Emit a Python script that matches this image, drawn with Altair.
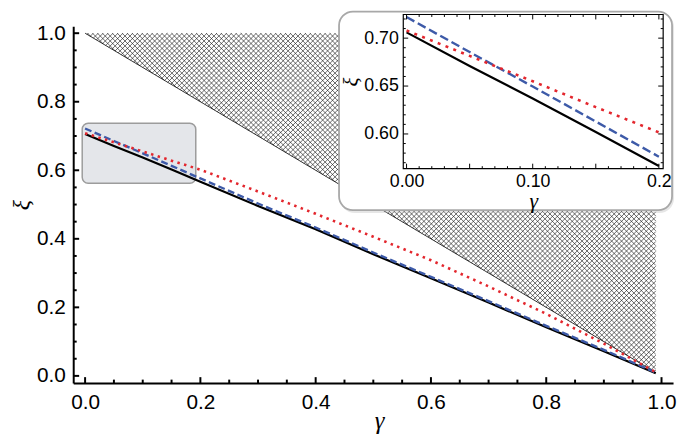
import altair as alt
import pandas as pd
import numpy as np

# ---------------- data ----------------
gamma = [0.0, 0.05, 0.10, 0.15, 0.20, 0.30, 0.40, 0.50, 0.60, 0.70, 0.80, 0.90, 0.99]
xi_black = [0.706, 0.671, 0.637, 0.602, 0.5665, 0.496, 0.428, 0.355, 0.285, 0.214, 0.142, 0.072, 0.008]
xi_blue = [0.722, 0.6855, 0.6495, 0.613, 0.5763, 0.503, 0.433, 0.360, 0.289, 0.218, 0.146, 0.076, 0.010]
xi_red = [0.708, 0.6815, 0.655, 0.628, 0.6017, 0.538, 0.473, 0.406, 0.3375, 0.261, 0.181, 0.094, 0.011]

# hatched (forbidden) region vertices
hatch_g = [0.0, 0.99, 0.99]
hatch_xi = [1.0, 1.0, 0.01]

# zoom box on the main plot
zoom_g = [-0.005, 0.192]
zoom_xi = [0.562, 0.737]

# tick values
main_major = [0.0, 0.2, 0.4, 0.6, 0.8, 1.0]
main_minor = [0.05, 0.10, 0.15, 0.25, 0.30, 0.35, 0.45, 0.50, 0.55,
              0.65, 0.70, 0.75, 0.85, 0.90, 0.95]
inset_x_labels = [0.0, 0.1, 0.2]
inset_x_major = [0.0, 0.05, 0.10, 0.15, 0.20]
inset_x_minor = [0.01, 0.02, 0.03, 0.04, 0.06, 0.07, 0.08, 0.09, 0.11, 0.12,
                 0.13, 0.14, 0.16, 0.17, 0.18, 0.19]
inset_y_major = [0.60, 0.65, 0.70]
inset_y_minor = [0.57, 0.58, 0.59, 0.61, 0.62, 0.63, 0.64, 0.66, 0.67, 0.68,
                 0.69, 0.71, 0.72]

# ---------------- layout ----------------
W, H = 607, 361
XD = [-0.0206, 1.02]
YD = [-0.021, 1.02]
IX0, IX1, IY0, IY1 = 334, 597, 144, -12   # inset frame (px, plot-local)
IXD = [-0.0026, 0.2034]
IYD = [0.5638, 0.7247]
BOX = (269, 606, -15, 186)                # inset white box (px)

LF = "Liberation Sans"
TF = "Liberation Serif"
RED = "#e3262d"
BLUE = "#3d5aa8"

df = pd.DataFrame({"g": gamma, "black": xi_black, "blue": xi_blue, "red": xi_red})
df_in = df[df["g"] <= 0.2 + 1e-9]

# ---------------- hatch lines (clipped to the region, 45 degrees in px) ----------------
def to_px(g, v):
    return ((g - XD[0]) / (XD[1] - XD[0]) * W, (YD[1] - v) / (YD[1] - YD[0]) * H)

def to_data(px, py):
    return (XD[0] + px / W * (XD[1] - XD[0]), YD[1] - py / H * (YD[1] - YD[0]))

tri = [np.array(to_px(g, v)) for g, v in zip(hatch_g, hatch_xi)]
segs = []
STEP = 5.0
for d in (np.array([1.0, 1.0]), np.array([1.0, -1.0])):
    n = np.array([d[1], -d[0]])
    cs = [n @ p for p in tri]
    c = min(cs) + STEP / 2
    while c < max(cs):
        pts = []
        for i in range(3):
            P, Q = tri[i], tri[(i + 1) % 3]
            den = n @ (Q - P)
            if abs(den) < 1e-12:
                continue
            u = (c - n @ P) / den
            if -1e-9 <= u <= 1 + 1e-9:
                pts.append(P + u * (Q - P))
        if len(pts) >= 2:
            pts.sort(key=lambda p: d @ p)
            a, b = pts[0], pts[-1]
            if np.linalg.norm(b - a) > 0.3:
                g1, v1 = to_data(*a)
                g2, v2 = to_data(*b)
                segs.append({"hx": g1, "hy": v1, "hx2": g2, "hy2": v2})
        c += STEP
df_hatch = pd.DataFrame(segs)
df_hyp = pd.DataFrame({"hx": [hatch_g[0]], "hy": [hatch_xi[0]],
                       "hx2": [hatch_g[2]], "hy2": [hatch_xi[2]]})
df_zoom = pd.DataFrame({"x1": [zoom_g[0]], "x2": [zoom_g[1]],
                        "y1": [zoom_xi[0]], "y2": [zoom_xi[1]]})

# ---------------- main encodings ----------------
main_x_axis = alt.Axis(values=main_major, format=".1f", ticks=False, grid=False,
                       domainColor="black", domainWidth=2,
                       labelFont=LF, labelFontSize=21, labelColor="black",
                       labelPadding=9, labelFlush=False,
                       title="γ", titleFont=TF, titleFontStyle="italic",
                       titleFontWeight="normal", titleFontSize=25,
                       titleColor="black", titleBaseline="alphabetic",
                       titleY=46, titleX=W / 2 + 6)
main_y_axis = alt.Axis(values=main_major, format=".1f", ticks=False, grid=False,
                       domainColor="black", domainWidth=2,
                       labelFont=LF, labelFontSize=21, labelColor="black",
                       labelPadding=8, labelFlush=False,
                       title="ξ", titleFont=TF, titleFontStyle="italic",
                       titleFontWeight="normal", titleFontSize=24,
                       titleColor="black", titleAngle=270,
                       titleBaseline="alphabetic", titleX=-45, titleY=H / 2)
mxs = alt.Scale(domain=XD, nice=False, zero=False)
mys = alt.Scale(domain=YD, nice=False, zero=False)

def mx(f):
    return alt.X(f"{f}:Q", scale=mxs, axis=main_x_axis, title="γ")

def my(f):
    return alt.Y(f"{f}:Q", scale=mys, axis=main_y_axis, title="ξ")

hatch = alt.Chart(df_hatch).mark_rule(color="#1a1a1a", strokeWidth=0.65).encode(
    x=mx("hx"), y=my("hy"), x2="hx2:Q", y2="hy2:Q")
hyp = alt.Chart(df_hyp).mark_rule(color="black", strokeWidth=0.8).encode(
    x=mx("hx"), y=my("hy"), x2="hx2:Q", y2="hy2:Q")
zoom_rect = alt.Chart(df_zoom).mark_rect(
    fill="#e4e6ea", stroke="#9c9c9c", strokeWidth=1.5, cornerRadius=6).encode(
    x=mx("x1"), x2="x2:Q", y=my("y1"), y2="y2:Q")

line_black = alt.Chart(df).mark_line(color="black", strokeWidth=2.2).encode(
    x=mx("g"), y=my("black"))
line_blue = alt.Chart(df).mark_line(color=BLUE, strokeWidth=2.4, strokeDash=[7, 3.5]).encode(
    x=mx("g"), y=my("blue"))
line_red = alt.Chart(df).mark_line(color=RED, strokeWidth=2.6, strokeDash=[2.5, 4.5]).encode(
    x=mx("g"), y=my("red"))

df_mmaj = pd.DataFrame({"t": main_major})
df_mmin = pd.DataFrame({"t": main_minor})
xt_maj = alt.Chart(df_mmaj).mark_rule(color="black", strokeWidth=2).encode(
    x=mx("t"), y=alt.value(H), y2=alt.value(H - 6))
xt_min = alt.Chart(df_mmin).mark_rule(color="black", strokeWidth=2).encode(
    x=mx("t"), y=alt.value(H), y2=alt.value(H - 3.5))
yt_maj = alt.Chart(df_mmaj).mark_rule(color="black", strokeWidth=2).encode(
    y=my("t"), x=alt.value(0), x2=alt.value(6))
yt_min = alt.Chart(df_mmin).mark_rule(color="black", strokeWidth=2).encode(
    y=my("t"), x=alt.value(0), x2=alt.value(3.5))

main = alt.layer(hatch, hyp, zoom_rect, line_black, line_blue, line_red,
                 xt_maj, xt_min, yt_maj, yt_min)

# ---------------- inset ----------------
inset_x_axis = alt.Axis(values=inset_x_labels, orient="bottom", offset=-(H - IY0),
                        labelExpr="datum.value > 0.15 ? '0.2' : format(datum.value, '.2f')",
                        ticks=False, domain=False, grid=False, zindex=3,
                        labelFont=LF, labelFontSize=18, labelColor="black",
                        labelPadding=4, labelFlush=False,
                        title="γ", titleFont=TF, titleFontStyle="italic",
                        titleFontWeight="normal", titleFontSize=22,
                        titleColor="black", titlePadding=0)
inset_y_axis = alt.Axis(values=inset_y_major, orient="left", offset=-IX0,
                        format=".2f", ticks=False, domain=False, grid=False, zindex=3,
                        labelFont=LF, labelFontSize=18, labelColor="black",
                        labelPadding=5, labelFlush=False,
                        title="ξ", titleFont=TF, titleFontStyle="italic",
                        titleFontWeight="normal", titleFontSize=21,
                        titleColor="black", titleAngle=270,
                        titleBaseline="alphabetic", titleX=-46, titleY=56)
ixs = alt.Scale(domain=IXD, range=[IX0, IX1], nice=False, zero=False)
iys = alt.Scale(domain=IYD, range=[IY0, IY1], nice=False, zero=False)

def ix(f):
    return alt.X(f"{f}:Q", scale=ixs, axis=inset_x_axis, title="γ")

def iy(f):
    return alt.Y(f"{f}:Q", scale=iys, axis=inset_y_axis, title="ξ")

one = pd.DataFrame({"a": [0]})
shadow = alt.Chart(one).mark_rect(fill="#b8b8b8", opacity=0.35, cornerRadius=15).encode(
    x=alt.value(BOX[0] + 1), x2=alt.value(BOX[1] + 2),
    y=alt.value(BOX[2] + 1), y2=alt.value(BOX[3] + 3))
box = alt.Chart(one).mark_rect(fill="white", stroke="#a8a8a8", strokeWidth=1.8,
                               cornerRadius=14).encode(
    x=alt.value(BOX[0]), x2=alt.value(BOX[1]),
    y=alt.value(BOX[2]), y2=alt.value(BOX[3]))
frame = alt.Chart(one).mark_rect(fill="white", fillOpacity=0, stroke="black",
                                 strokeWidth=1.2).encode(
    x=alt.value(IX0), x2=alt.value(IX1), y=alt.value(IY1), y2=alt.value(IY0))

iline_black = alt.Chart(df_in).mark_line(color="black", strokeWidth=2.2).encode(
    x=ix("g"), y=iy("black"))
iline_blue = alt.Chart(df_in).mark_line(color=BLUE, strokeWidth=2.4, strokeDash=[9, 4]).encode(
    x=ix("g"), y=iy("blue"))
iline_red = alt.Chart(df_in).mark_line(color=RED, strokeWidth=2.6, strokeDash=[3, 5.5]).encode(
    x=ix("g"), y=iy("red"))

df_ixmaj = pd.DataFrame({"t": inset_x_major})
df_ixmin = pd.DataFrame({"t": inset_x_minor})
df_iymaj = pd.DataFrame({"t": inset_y_major})
df_iymin = pd.DataFrame({"t": inset_y_minor})

itick = []
for dfx, ln in ((df_ixmaj, 5), (df_ixmin, 2.5)):
    itick.append(alt.Chart(dfx).mark_rule(color="black", strokeWidth=1).encode(
        x=ix("t"), y=alt.value(IY0), y2=alt.value(IY0 - ln)))
    itick.append(alt.Chart(dfx).mark_rule(color="black", strokeWidth=1).encode(
        x=ix("t"), y=alt.value(IY1), y2=alt.value(IY1 + ln)))
for dfy, ln in ((df_iymaj, 5), (df_iymin, 2.5)):
    itick.append(alt.Chart(dfy).mark_rule(color="black", strokeWidth=1).encode(
        y=iy("t"), x=alt.value(IX0), x2=alt.value(IX0 + ln)))
    itick.append(alt.Chart(dfy).mark_rule(color="black", strokeWidth=1).encode(
        y=iy("t"), x=alt.value(IX1), x2=alt.value(IX1 - ln)))

inset = alt.layer(shadow, box, iline_black, iline_blue, iline_red, *itick, frame)

chart = alt.layer(main, inset).resolve_scale(
    x="independent", y="independent"
).properties(
    width=W, height=H,
    padding={"left": 66, "top": 16, "right": 4, "bottom": 52},
    autosize=alt.AutoSizeParams(type="none"),
).configure_view(stroke=None)

chart.save("out.html", embed_options={"renderer": "svg", "actions": False})
